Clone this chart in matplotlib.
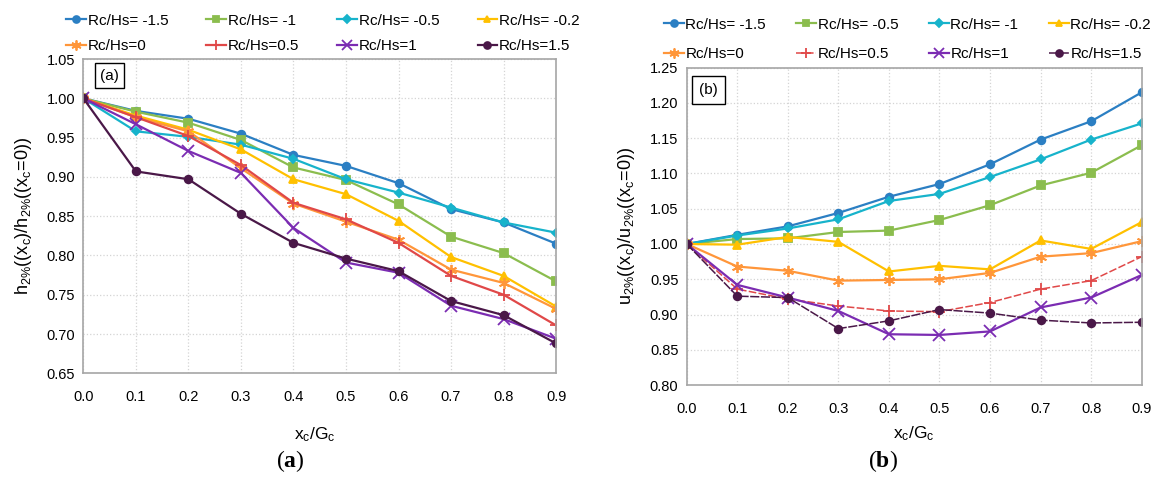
import matplotlib.pyplot as plt

# x_c / G_c positions
x = [0.0, 0.1, 0.2, 0.3, 0.4, 0.5, 0.6, 0.7, 0.8, 0.9]

# (a) h2%(xc)/h2%(xc=0)
h_m15 = [1.0, 0.984, 0.974, 0.955, 0.928, 0.914, 0.892, 0.859, 0.842, 0.815]
h_m1 = [1.0, 0.983, 0.969, 0.947, 0.912, 0.896, 0.865, 0.824, 0.803, 0.767]
h_m05 = [1.0, 0.958, 0.951, 0.941, 0.923, 0.897, 0.880, 0.861, 0.842, 0.829]
h_m02 = [1.0, 0.978, 0.960, 0.935, 0.897, 0.878, 0.844, 0.798, 0.774, 0.735]
h_0 = [1.0, 0.976, 0.958, 0.911, 0.866, 0.843, 0.820, 0.782, 0.765, 0.732]
h_05 = [1.0, 0.976, 0.952, 0.915, 0.867, 0.846, 0.816, 0.774, 0.750, 0.711]
h_1 = [1.0, 0.967, 0.933, 0.905, 0.835, 0.791, 0.778, 0.736, 0.719, 0.694]
h_15 = [1.0, 0.907, 0.897, 0.853, 0.816, 0.796, 0.780, 0.742, 0.724, 0.688]

# (b) u2%(xc)/u2%(xc=0)
u_m15 = [1.0, 1.013, 1.025, 1.044, 1.067, 1.085, 1.113, 1.148, 1.174, 1.215]
u_m05 = [1.0, 1.007, 1.008, 1.017, 1.019, 1.034, 1.055, 1.083, 1.101, 1.140]
u_m1 = [1.0, 1.012, 1.022, 1.035, 1.061, 1.071, 1.095, 1.120, 1.148, 1.171]
u_m02 = [1.0, 0.999, 1.010, 1.003, 0.961, 0.969, 0.964, 1.005, 0.993, 1.031]
u_0 = [1.0, 0.968, 0.962, 0.948, 0.949, 0.950, 0.959, 0.982, 0.987, 1.004]
u_05 = [1.0, 0.936, 0.922, 0.912, 0.905, 0.904, 0.917, 0.936, 0.948, 0.982]
u_1 = [1.0, 0.942, 0.924, 0.905, 0.872, 0.871, 0.876, 0.910, 0.924, 0.956]
u_15 = [1.0, 0.926, 0.924, 0.880, 0.891, 0.907, 0.902, 0.892, 0.888, 0.889]

ticks_x = [0.0, 0.1, 0.2, 0.3, 0.4, 0.5, 0.6, 0.7, 0.8, 0.9]
ticks_ya = [0.65, 0.70, 0.75, 0.80, 0.85, 0.90, 0.95, 1.00, 1.05]
ticks_yb = [0.80, 0.85, 0.90, 0.95, 1.00, 1.05, 1.10, 1.15, 1.20, 1.25]

blue, green, cyan, yellow = '#2b7fc3', '#8bbd4e', '#17b3cb', '#ffc000'
orange, red, purple, dark = '#ff963a', '#e04848', '#7b2cb2', '#4a1848'

plt.rcParams['font.family'] = ['Liberation Sans', 'DejaVu Sans']
plt.rcParams['mathtext.fontset'] = 'custom'
plt.rcParams['mathtext.rm'] = 'Liberation Sans'
plt.rcParams['mathtext.it'] = 'Liberation Sans:italic'
plt.rcParams['mathtext.bf'] = 'Liberation Serif:bold'

fig = plt.figure(figsize=(11.53, 4.79), dpi=100)
ax1 = fig.add_axes([0.0723, 0.2207, 0.41, 0.656])
ax2 = fig.add_axes([0.5956, 0.1962, 0.3946, 0.6625])

lw = 1.6
ms = 5.5
sa = [
    (h_m15, 'Rc/Hs= -1.5', blue, 'o', '-', lw),
    (h_m1, 'Rc/Hs= -1', green, 's', '-', lw),
    (h_m05, 'Rc/Hs= -0.5', cyan, 'D', '-', lw),
    (h_m02, 'Rc/Hs= -0.2', yellow, '^', '-', lw),
    (h_0, 'Rc/Hs=0', orange, (6, 2, 0), '-', lw),
    (h_05, 'Rc/Hs=0.5', red, '+', '-', lw),
    (h_1, 'Rc/Hs=1', purple, 'x', '-', lw),
    (h_15, 'Rc/Hs=1.5', dark, 'o', '-', lw),
]
sb = [
    (u_m15, 'Rc/Hs= -1.5', blue, 'o', '-', lw),
    (u_m05, 'Rc/Hs= -0.5', green, 's', '-', lw),
    (u_m1, 'Rc/Hs= -1', cyan, 'D', '-', lw),
    (u_m02, 'Rc/Hs= -0.2', yellow, '^', '-', lw),
    (u_0, 'Rc/Hs=0', orange, (6, 2, 0), '-', lw),
    (u_05, 'Rc/Hs=0.5', red, '+', (0, (5, 1.5)), 1.1),
    (u_1, 'Rc/Hs=1', purple, 'x', '-', lw),
    (u_15, 'Rc/Hs=1.5', dark, 'o', (0, (6, 1)), 1.1),
]


def draw(ax, series):
    hs = []
    for ys, lab, c, m, ls, w in series:
        msz = ms
        if m == 'D':
            msz = ms - 1
        if m in ('+', 'x') or isinstance(m, tuple):
            msz = ms + 2.5
        h, = ax.plot(x, ys, color=c, marker=m, linestyle=ls, linewidth=w,
                     markersize=msz, markeredgewidth=1.3, label=lab)
        hs.append(h)
    ax.set_xlim(0, 0.9)
    ax.set_xticks(ticks_x)
    ax.set_xticklabels([f'{t:.1f}' for t in ticks_x])
    ax.grid(True, color='#d4d4d4', linestyle=':', linewidth=0.9)
    ax.set_axisbelow(True)
    for s in ax.spines.values():
        s.set_color('#a6a6a6')
        s.set_linewidth(1.2)
    ax.tick_params(length=0, pad=12, labelsize=10.5)
    ax.tick_params(axis='y', pad=6)
    return hs


hs1 = draw(ax1, sa)
ax1.set_ylim(0.65, 1.05)
ax1.set_yticks(ticks_ya)
ax1.set_yticklabels([f'{t:.2f}' for t in ticks_ya])
ax1.set_ylabel('h$_{2\\%}$((x$_{\\rm c}$)/h$_{2\\%}$((x$_{\\rm c}$=0))', fontsize=13, labelpad=9)
ax1.set_xlabel('x$_{\\rm c}$/G$_{\\rm c}$', fontsize=12.5, labelpad=14)
ax1.xaxis.set_label_coords(0.49, -0.165)
ax1.text(0.055, 0.947, '(a)', transform=ax1.transAxes, ha='center', va='center', fontsize=11,
         bbox=dict(boxstyle='square,pad=0.35', facecolor='white', edgecolor='black', linewidth=1))

hs2 = draw(ax2, sb)
ax2.set_ylim(0.80, 1.25)
ax2.set_yticks(ticks_yb)
ax2.set_yticklabels([f'{t:.2f}' for t in ticks_yb])
ax2.set_ylabel('u$_{2\\%}$((x$_{\\rm c}$)/u$_{2\\%}$((x$_{\\rm c}$=0))', fontsize=13, labelpad=9)
ax2.set_xlabel('x$_{\\rm c}$/G$_{\\rm c}$', fontsize=12.5, labelpad=6)
ax2.text(0.048, 0.93, '(b)', transform=ax2.transAxes, ha='center', va='center', fontsize=11,
         bbox=dict(boxstyle='square,pad=0.45', facecolor='white', edgecolor='black', linewidth=1))


def order(hs):
    return [hs[0], hs[4], hs[1], hs[5], hs[2], hs[6], hs[3], hs[7]]


leg_kw = dict(ncol=4, frameon=False, fontsize=11, handlelength=1.3, handletextpad=0.1,
              borderaxespad=0, markerscale=0.9)
o1 = order(hs1)
fig.legend(o1, [h.get_label() for h in o1], loc='center', bbox_to_anchor=(0.28, 0.93),
           columnspacing=2.5, labelspacing=0.75, **leg_kw)
o2 = order(hs2)
fig.legend(o2, [h.get_label() for h in o2], loc='center', bbox_to_anchor=(0.787, 0.918),
           columnspacing=2.0, labelspacing=1.0, **leg_kw)

fig.text(0.2515, 0.01, r'($\mathbf{a}$)', ha='center', va='bottom', fontsize=17, family='Liberation Serif')
fig.text(0.766, 0.01, r'($\mathbf{b}$)', ha='center', va='bottom', fontsize=17, family='Liberation Serif')

fig.savefig('out.png', dpi=100)
